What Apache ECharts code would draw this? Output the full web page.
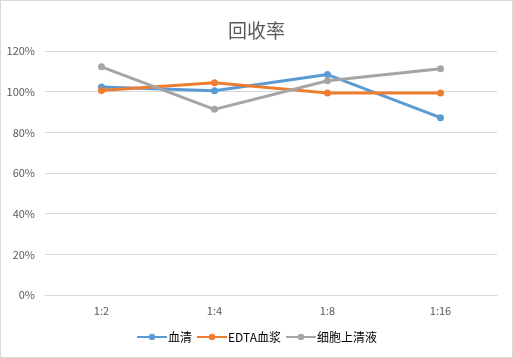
<!DOCTYPE html>
<html><head><meta charset="utf-8">
<script src="https://cdn.jsdelivr.net/npm/echarts@6/dist/echarts.min.js"></script>
<style>html,body{margin:0;padding:0;background:#fff}#c{width:513px;height:358px;box-sizing:border-box;border:1px solid #d9d9d9}</style>
</head><body><div id="c"></div>
<script>
const categories = ['1:2','1:4','1:8','1:16'];
const serum = [102.3, 100.4, 108.4, 87.2];
const edta = [100.6, 104.4, 99.4, 99.4];
const supernatant = [112.2, 91.3, 105.4, 111.3];
const seriesNames = ['血清','EDTA血浆','细胞上清液'];
const colors = ['#5b9bd5','#ed7d31','#a5a5a5'];
const chart = echarts.init(document.getElementById('c'));
const font = '"Microsoft YaHei","Noto Sans CJK SC",sans-serif';
chart.setOption({
  animation:false,
  title:{text:'回收率',left:'center',top:15,textStyle:{fontFamily:font,fontSize:19,fontWeight:'normal',color:'#595959'}},
  grid:{left:44,right:15,top:50,bottom:62},
  legend:{bottom:9,itemGap:4,itemWidth:30,itemHeight:8,textStyle:{fontFamily:font,fontSize:12,color:'#000',padding:[0,0,0,-4]},
    data:seriesNames},
  xAxis:{type:'category',data:categories,axisLine:{lineStyle:{color:'#d9d9d9'}},axisTick:{show:false},
    axisLabel:{color:'#595959',fontSize:11,fontFamily:font,margin:10}},
  yAxis:{type:'value',min:0,max:120,interval:20,axisLabel:{formatter:'{value}%',color:'#595959',fontSize:11,fontFamily:font,margin:10},
    splitLine:{lineStyle:{color:'#d9d9d9'}},axisLine:{show:false}},
  color:colors,
  series:[serum,edta,supernatant].map((d,i)=>({name:seriesNames[i],type:'line',data:d,symbol:'circle',symbolSize:7,
    lineStyle:{width:3,color:colors[i]},itemStyle:{color:colors[i]}}))
});
</script></body></html>
